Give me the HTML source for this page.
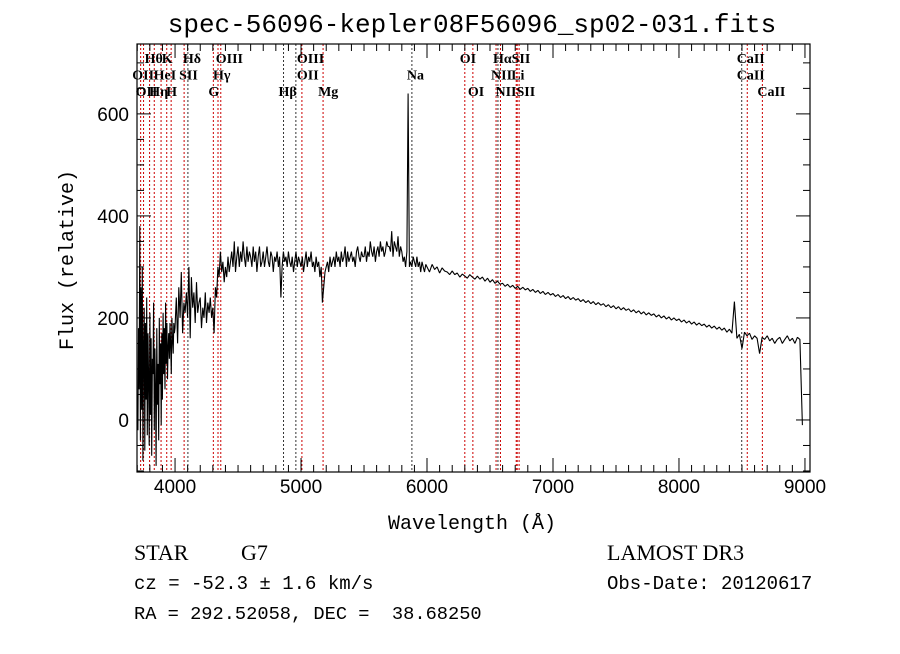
<!DOCTYPE html>
<html><head><meta charset="utf-8"><style>
body{margin:0;background:#fff;width:900px;height:649px;overflow:hidden}
svg text{font-family:"Liberation Serif",serif}
</style></head><body>
<svg id="chart" width="900" height="649" viewBox="0 0 900 649">
<text x="472" y="32" text-anchor="middle" font-size="26" style="font-family:'Liberation Mono',monospace">spec-56096-kepler08F56096_sp02-031.fits</text>
<g id="lines"></g>
<path id="spec" fill="none" stroke="#000" stroke-width="1.1" stroke-linejoin="bevel"/>
<rect x="137" y="44" width="673" height="428" fill="none" stroke="#000" stroke-width="1.2"/>
<g id="axes"></g>
<text x="472" y="529" text-anchor="middle" font-size="20" style="font-family:'Liberation Mono',monospace">Wavelength (Å)</text>
<text transform="translate(73,260) rotate(-90)" text-anchor="middle" font-size="20" style="font-family:'Liberation Mono',monospace">Flux (relative)</text>
<text x="134" y="560" font-size="22">STAR</text>
<text x="241" y="560" font-size="22">G7</text>
<text x="607" y="560" font-size="22">LAMOST DR3</text>
<text x="134" y="589" font-size="19" style="font-family:'Liberation Mono',monospace">cz = -52.3 ± 1.6 km/s</text>
<text x="607" y="589" font-size="19" style="font-family:'Liberation Mono',monospace">Obs-Date: 20120617</text>
<text x="134" y="619" font-size="18.7" style="font-family:'Liberation Mono',monospace" xml:space="preserve">RA = 292.52058, DEC =  38.68250</text>
</svg>
<script>
const xTicks=[4000,5000,6000,7000,8000,9000];
const yTicks=[0,200,400,600];
const segStart=[3700,4000,6000];
const segStep=[5,10,20];
const flux1=[50,-20,180,60,380,-40,260,20,300,-80,150,220,-60,190,40,240,-30,170,80,-50,210,10,160,-70,120,90,230,-20,140,60,-90,180,30,110,-40,200,70,150,-10,170,40,210,90,180,60,230,110,190,80,140,170,120,190,150,90,200,160,130,190,170];
const flux2=[180,240,150,260,200,290,170,230,210,250,
200,300,160,280,220,250,190,270,210,230,
240,180,220,200,250,190,230,210,240,200,
220,170,260,240,300,280,330,290,310,270,
300,280,320,290,310,330,300,350,290,320,
340,300,330,310,350,320,300,340,310,330,
320,300,340,310,330,290,320,340,300,310,
330,300,320,340,310,300,330,320,290,320,
310,330,300,320,240,300,330,310,320,300,
330,310,300,320,290,310,330,300,320,310,
300,320,290,310,330,300,320,310,330,300,
310,290,320,300,310,280,300,230,260,290,
300,310,290,320,300,310,320,300,330,310,
320,300,330,310,320,340,300,330,310,320,
330,310,320,300,330,340,320,310,330,320,
320,340,310,330,320,350,330,320,340,310,
330,340,320,350,330,340,320,330,350,340,
340,330,370,320,350,340,330,360,320,340,
330,310,320,300,330,640,300,310,300,320,
310,300,320,300,310,290,310,300,290,305];
const flux3=[300,290,305,295,300,288,298,292,290,285,
292,285,288,280,286,282,278,285,280,276,
282,276,280,272,278,270,275,268,272,266,
268,262,266,260,264,258,262,256,260,255,
258,252,256,250,254,248,252,246,250,245,
248,242,246,240,244,238,242,236,240,235,
238,232,236,230,234,228,232,226,230,225,
228,222,226,220,224,218,222,216,220,215,
218,212,216,210,214,208,212,206,210,205,
208,202,206,200,204,198,202,196,200,195,
198,192,196,190,194,188,192,186,190,185,
188,182,186,180,184,178,182,176,180,172,
178,170,232,160,168,140,172,165,170,158,
165,160,130,162,158,165,155,160,150,158,
162,150,158,165,155,160,150,162,158,-10];
const xmin=3698,xmax=9040,ymin=-102,ymax=737,L=137,R=810,T=44,B=472;
const X=v=>L+(v-xmin)/(xmax-xmin)*(R-L);
const Y=v=>B-(v-ymin)/(ymax-ymin)*(B-T);
const ns="http://www.w3.org/2000/svg";
let d="";
[flux1,flux2,flux3].forEach((arr,s)=>arr.forEach((f,i)=>{const w=segStart[s]+i*segStep[s];d+=(d?"L":"M")+X(w).toFixed(1)+" "+Y(f).toFixed(1);}));
document.getElementById("spec").setAttribute("d",d);
const ax=document.getElementById("axes");
function mk(tag,a,p){const e=document.createElementNS(ns,tag);for(const k in a)e.setAttribute(k,a[k]);(p||ax).appendChild(e);return e;}
for(let v=3700;v<=9000;v+=100){const x=X(v);const len=v%1000==0?14:7;
const t1=mk("line",{x1:x,x2:x,y1:B,y2:B-len,stroke:"#000"});
const t2=mk("line",{x1:x,x2:x,y1:T,y2:T+len,stroke:"#000"});}
xTicks.forEach(v=>{const t=mk("text",{x:X(v),y:B+21,"text-anchor":"middle","font-size":"19",style:"font-family:'Liberation Sans',sans-serif"});t.textContent=v;
});
for(let v=-100;v<=700;v+=50){const y=Y(v);const len=v%200==0?14:7;
const t1=mk("line",{x1:L,x2:L+len,y1:y,y2:y,stroke:"#000"});
const t2=mk("line",{x1:R,x2:R-len,y1:y,y2:y,stroke:"#000"});}
yTicks.forEach(v=>{const t=mk("text",{x:L-8,y:Y(v)+7,"text-anchor":"end","font-size":"19",style:"font-family:'Liberation Sans',sans-serif"});t.textContent=v;
});
const lineW=[3727,3750,3798,3835,3889,3934,3969,4072,4102,4304,4341,4363,4861,4959,5007,5175,5880,6300,6364,6548,6563,6583,6708,6716,6731,8498,8542,8662];
const lineC=["r","r","r","r","r","r","r","r","k","r","r","r","k","k","r","r","k","r","r","r","k","r","r","r","r","k","r","r"];
const lg=document.getElementById("lines");
lineW.forEach((w,i)=>{const e=mk("line",{x1:X(w),x2:X(w),y1:T,y2:B,stroke:lineC[i]=="r"?"#c00":"#333","stroke-dasharray":"2,2","stroke-width":"1"},lg);
});
const labT=["Hθ","K","Hδ","OIII","OIII","OI","HαSII","CaII","OII","HeI","SII","Hγ","OII","Na","NII","Li","CaII","OII","Hη","H","G","Hβ","Mg","OI","NIISII","CaII"];
const labW=[3798,3934,4102,4363,5007,6300,6563,8498,3700,3870,4072,4341,5007,5880,6548,6708,8498,3727,3835,3969,4304,4861,5175,6364,6583,8662];
const labR=[0,0,0,0,0,0,0,0,1,1,1,1,1,1,1,1,1,2,2,2,2,2,2,2,2,2];
labT.forEach((s,i)=>{const t=mk("text",{x:X(labW[i])-5,y:63+labR[i]*16.5,"font-size":"14","font-weight":"bold"},lg);t.textContent=s;
});
</script>
</body></html>
